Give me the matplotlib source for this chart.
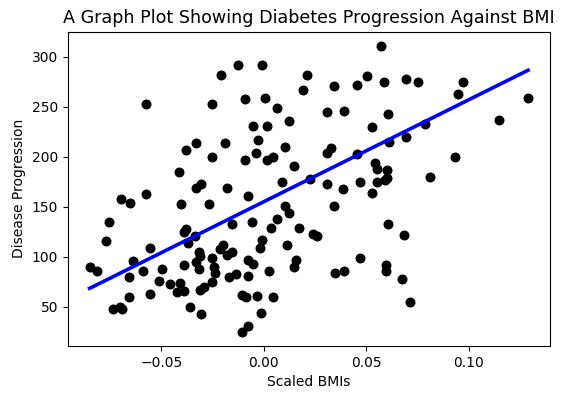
import matplotlib
matplotlib.use("Agg")
import matplotlib.pyplot as plt
import numpy as np

# scaled BMI (test set) and disease progression
bmi = np.array([
    -0.0209, -0.0573, -0.0252, -0.0331, -0.0378, -0.0188, -0.0252, -0.0412, -0.0307, -0.0330,
    -0.0180, -0.0695, -0.0651, -0.0573, -0.0404, -0.0266, -0.0757, -0.0769, -0.0391, -0.0378,
    -0.0334, -0.0370, -0.0554, -0.0156, -0.0849, -0.0813, -0.0638, -0.0659, -0.0588, -0.0497,
    -0.0511, -0.0456, -0.0407, -0.0424, -0.0391, -0.0314, -0.0310, -0.0330, -0.0253, -0.0314,
    -0.0391, -0.0242, -0.0237, -0.0200, -0.0213, -0.0180, -0.0172, -0.0253, -0.0294, -0.0310,
    -0.0659, -0.0554, -0.0735, -0.0703, -0.0691, -0.0359, -0.0307,
    -0.0075, 0.0091, 0.0223, 0.0307, 0.0385, 0.0469, 0.0550, 0.0593, 0.0526, 0.0344,
    0.0104, 0.0125, 0.0063, 0.0036, -0.0057, 0.0173, 0.0241, 0.0258, -0.0010, -0.0018,
    0.0112, -0.0156, -0.0075, -0.0051, 0.0156, 0.0148, 0.0027, -0.0135, -0.0075, 0.0347,
    0.0392, 0.0469, 0.0605, 0.0595, 0.0595, -0.0107, -0.0086, -0.0034, 0.0047, -0.0013,
    -0.0107, -0.0075,
    -0.0127, -0.0008, 0.0569, 0.0209, 0.0190, 0.0342, 0.0456, 0.0501, 0.0587, -0.0091,
    0.0006, 0.0063, 0.0307, 0.0391, 0.0605, 0.0125, -0.0051, 0.0015, -0.0026, 0.0526,
    0.0104, -0.0037, -0.0091, 0.0015, 0.0047, 0.0148, 0.0307, 0.0328, 0.0453, 0.0542,
    0.0550, 0.0600, 0.0598,
    0.0693, 0.0750, 0.0972, 0.0944, 0.1288, 0.1147, 0.0785, 0.0693, 0.0610, 0.0931,
    0.0810, 0.0685, 0.0672, 0.0712,
])
progression = np.array([
    282, 253, 253, 214, 207, 214, 200, 185, 173, 169,
    169, 158, 154, 163, 153, 153, 135, 116, 125, 128,
    121, 114, 109, 133, 90, 86, 96, 80, 86, 88,
    76, 73, 74, 65, 66, 105, 101, 95, 99, 88,
    92, 90, 84, 112, 108, 102, 80, 75, 70, 67,
    60, 63, 48, 50, 48, 50, 43,
    161, 175, 178, 173, 168, 175, 175, 177, 164, 151,
    151, 144, 138, 129, 135, 129, 123, 121, 117, 109,
    112, 105, 97, 93, 97, 90, 86, 83, 81, 84,
    86, 99, 133, 92, 86, 62, 60, 61, 60, 44,
    25, 31,
    292, 292, 311, 282, 267, 271, 272, 281, 275, 258,
    259, 249, 245, 246, 243, 236, 231, 231, 217, 230,
    210, 204, 197, 197, 200, 191, 204, 209, 203, 194,
    188, 187, 179,
    278, 275, 275, 263, 259, 237, 233, 220, 215, 200,
    180, 122, 78, 55,
])

# fitted regression line (end points)
fit_x = [-0.0849, 0.1288]
fit_y = [68.4, 286.7]

fig = plt.figure(figsize=(5.61, 4.0), dpi=100)
ax = fig.add_axes([0.1207, 0.135, 0.8597, 0.7858])

ax.scatter(bmi, progression, color="black", s=38, zorder=2)
ax.plot(fit_x, fit_y, color="blue", linewidth=2.6, zorder=3)

ax.set_title("A Graph Plot Showing Diabetes Progression Against BMI", fontsize=12.6)
ax.set_xlabel("Scaled BMIs")
ax.set_ylabel("Disease Progression")
ax.set_xticks([-0.05, 0.0, 0.05, 0.10])

fig.savefig("out.png", dpi=100)
